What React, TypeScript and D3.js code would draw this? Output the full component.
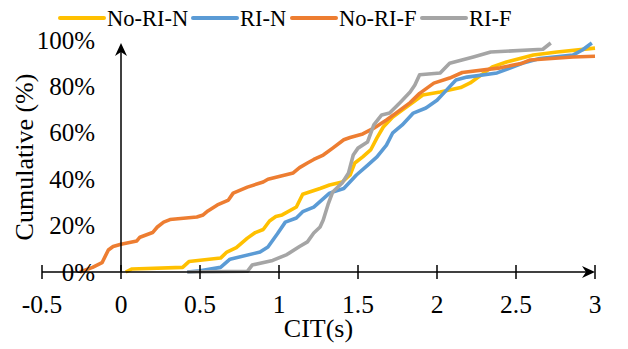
import React, { useRef, useEffect } from "react";
import * as d3 from "d3";

// CDF of CIT (s) against cumulative share (%)
type Pt = [number, number];

const seriesNames = ["No-RI-N", "RI-N", "No-RI-F", "RI-F"];
const seriesColors = ["#FFC000", "#5B9BD5", "#ED7D31", "#A5A5A5"];

const noRiN: Pt[] = [
  [0.03, 0], [0.07, 1.3], [0.39, 2], [0.43, 4.5], [0.63, 6], [0.67, 8.6], [0.73, 10.5],
  [0.8, 14.6], [0.85, 17], [0.9, 18.3], [0.94, 22], [0.98, 23.9], [1.02, 24.6], [1.11, 28],
  [1.15, 33.5], [1.26, 36], [1.32, 37.5], [1.4, 38.8], [1.45, 41.8], [1.48, 47], [1.53, 49.6],
  [1.58, 52.6], [1.62, 57.8], [1.66, 62.5], [1.72, 66.8], [1.78, 69.8], [1.85, 73.3],
  [1.91, 76.3], [2.02, 77.6], [2.15, 79.5], [2.21, 81.5], [2.35, 88.4], [2.44, 90.5],
  [2.61, 93.5], [2.76, 94.8], [3.0, 96.5],
];

const riN: Pt[] = [
  [0.42, 0], [0.5, 0.5], [0.63, 2], [0.69, 5.5], [0.88, 8.6], [0.93, 10.8], [0.99, 16.5],
  [1.04, 21.5], [1.11, 23.3], [1.15, 26], [1.22, 28], [1.27, 31], [1.32, 34], [1.41, 36],
  [1.49, 41.8], [1.56, 46], [1.62, 49.6], [1.68, 54.7], [1.72, 60], [1.78, 63.4], [1.85, 68.5],
  [1.93, 70.7], [2.0, 74], [2.06, 78.4], [2.12, 82.8], [2.19, 84], [2.38, 85.8], [2.54, 90],
  [2.65, 92], [2.86, 93.5], [2.92, 95.7], [2.98, 98.7],
];

const noRiF: Pt[] = [
  [-0.26, 0], [-0.18, 2], [-0.12, 4], [-0.08, 9.5], [-0.05, 11], [0, 12], [0.1, 13.4],
  [0.12, 15], [0.2, 17], [0.23, 19.4], [0.27, 21.5], [0.31, 22.6], [0.48, 23.7], [0.52, 24.6],
  [0.55, 26.3], [0.61, 28.9], [0.68, 31], [0.71, 34], [0.8, 36.6], [0.9, 38.8], [0.93, 40],
  [1.09, 42.7], [1.13, 45], [1.18, 47], [1.22, 48.5], [1.28, 50.4], [1.34, 53.4], [1.41, 57],
  [1.45, 58], [1.53, 59.5], [1.6, 62], [1.68, 65.5], [1.74, 68.5], [1.83, 73], [1.89, 77],
  [1.98, 81.4], [2.08, 83.6], [2.16, 86], [2.4, 88], [2.54, 90], [2.59, 91.4], [2.86, 92.7],
  [3.0, 93],
];

const riF: Pt[] = [
  [0.42, 0], [0.8, 0.3], [0.83, 3], [0.96, 5], [1.05, 7.5], [1.13, 11], [1.18, 13],
  [1.22, 16.8], [1.26, 19.4], [1.28, 22.4], [1.31, 29], [1.34, 34.5], [1.4, 38.4], [1.44, 42.7],
  [1.47, 50.4], [1.5, 53.4], [1.56, 56], [1.6, 63.4], [1.65, 67.7], [1.7, 68.5], [1.77, 73.3],
  [1.83, 77.6], [1.86, 80.6], [1.89, 85], [2.02, 85.8], [2.08, 90], [2.23, 92.7], [2.34, 94.8],
  [2.67, 96], [2.72, 98.7],
];

const xTicks = [-0.5, 0, 0.5, 1, 1.5, 2, 2.5, 3];
const yTicks = [0, 20, 40, 60, 80, 100];

const W = 628;
const H = 349;
const FONT = "Liberation Serif, Times New Roman, DejaVu Serif, serif";

const App: React.FC = () => {
  const ref = useRef<SVGSVGElement | null>(null);

  useEffect(() => {
    if (!ref.current) return;
    const svg = d3.select(ref.current).attr("font-family", FONT);
    svg.selectAll("*").remove();

    const x = d3.scaleLinear().domain([-0.5, 3]).range([42, 595]);
    const y = d3.scaleLinear().domain([0, 100]).range([272, 40]);
    const x0 = x(0);
    const y0 = y(0);

    // curves
    const line = d3.line<Pt>().x((d) => x(d[0])).y((d) => y(d[1]));
    const all = [noRiN, riN, noRiF, riF];
    svg.append("g")
      .selectAll("path")
      .data(all)
      .join("path")
      .attr("d", (d) => line(d)!)
      .attr("fill", "none")
      .attr("stroke", (_, i) => seriesColors[i])
      .attr("stroke-width", 3.6)
      .attr("stroke-linejoin", "round");

    // axes
    const ax = svg.append("g").attr("stroke", "#000").attr("stroke-width", 1.5);
    ax.append("line")
      .attr("x1", x(-0.5)).attr("x2", x(3) - 4)
      .attr("y1", y0).attr("y2", y0);
    ax.selectAll("line.tick")
      .data(xTicks)
      .join("line")
      .attr("class", "tick")
      .attr("x1", (d) => x(d)).attr("x2", (d) => x(d))
      .attr("y1", y0 - 7).attr("y2", y0 + 7);
    ax.append("line")
      .attr("x1", x0).attr("x2", x0)
      .attr("y1", y0).attr("y2", y(100) + 6);

    // arrow heads
    const xe = x(3);
    svg.append("path")
      .attr("d", `M${xe},${y0} L${xe - 13},${y0 - 6} L${xe - 9},${y0} L${xe - 13},${y0 + 6} Z`)
      .attr("fill", "#000");
    const yt = y(100) + 3;
    svg.append("path")
      .attr("d", `M${x0},${yt} L${x0 - 6},${yt + 13} L${x0},${yt + 9} L${x0 + 6},${yt + 13} Z`)
      .attr("fill", "#000");

    // tick labels
    svg.append("g")
      .attr("font-size", 25.5)
      .selectAll("text")
      .data(xTicks)
      .join("text")
      .attr("x", (d) => x(d))
      .attr("y", 313)
      .attr("text-anchor", "middle")
      .text((d) => String(d));

    svg.append("g")
      .attr("font-size", 25)
      .selectAll("text")
      .data(yTicks)
      .join("text")
      .attr("x", 95)
      .attr("y", (d) => y(d) + 8.5)
      .attr("text-anchor", "end")
      .text((d) => `${d}%`);

    // axis titles
    svg.append("text")
      .attr("transform", `translate(33,${(y(0) + y(100)) / 2 + 1}) rotate(-90)`)
      .attr("text-anchor", "middle")
      .attr("font-size", 26)
      .text("Cumulative (%)");
    svg.append("text")
      .attr("x", (x(-0.5) + x(3)) / 2)
      .attr("y", 337)
      .attr("text-anchor", "middle")
      .attr("font-size", 26)
      .text("CIT(s)");

    // legend
    const legendX = [60, 193, 292, 422];
    const lg = svg.append("g")
      .attr("font-size", 22.5)
      .selectAll("g")
      .data(seriesNames)
      .join("g")
      .attr("transform", (_, i) => `translate(${legendX[i]},18)`);
    lg.append("line")
      .attr("x1", 0).attr("x2", 44)
      .attr("y1", 0).attr("y2", 0)
      .attr("stroke", (_, i) => seriesColors[i])
      .attr("stroke-width", 4)
      .attr("stroke-linecap", "round");
    lg.append("text")
      .attr("x", 47)
      .attr("y", 8)
      .text((d) => d);
  }, []);

  return (
    <svg
      ref={ref}
      width={W}
      height={H}
      style={{ position: "absolute", left: 0, top: 0, background: "#fff" }}
    />
  );
};

export default App;
